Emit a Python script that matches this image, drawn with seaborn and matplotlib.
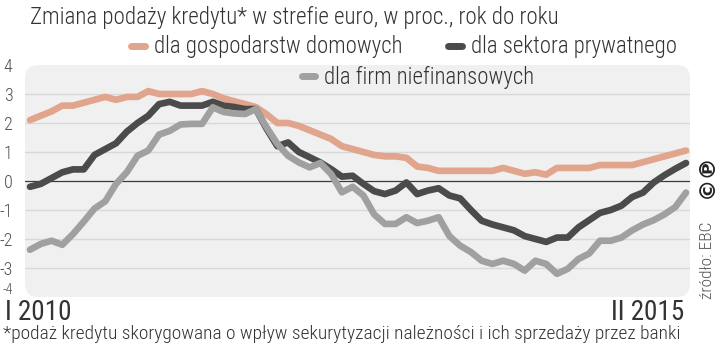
import numpy as np
import pandas as pd
import seaborn as sns
import matplotlib.pyplot as plt
from matplotlib.patches import FancyBboxPatch
from matplotlib.lines import Line2D

# Monthly y/y change of credit supply in the euro area, I 2010 - II 2015
month_idx = list(range(62))
x_labels = ["I 2010", "II 2015"]
y_ticks = [-4, -3, -2, -1, 0, 1, 2, 3, 4]

households = [2.10, 2.25, 2.40, 2.60, 2.60, 2.70, 2.80, 2.90, 2.80, 2.90,
              2.90, 3.10, 3.00, 3.00, 3.00, 3.00, 3.10, 3.00, 2.85, 2.75,
              2.65, 2.55, 2.30, 2.00, 2.00, 1.90, 1.75, 1.60, 1.45, 1.20,
              1.10, 1.00, 0.90, 0.85, 0.85, 0.80, 0.50, 0.45, 0.35, 0.35,
              0.35, 0.35, 0.35, 0.35, 0.45, 0.35, 0.25, 0.30, 0.22, 0.45,
              0.45, 0.45, 0.45, 0.55, 0.55, 0.55, 0.55, 0.65, 0.75, 0.85,
              0.95, 1.05]

private = [-0.20, -0.10, 0.10, 0.30, 0.40, 0.40, 0.90, 1.10, 1.30, 1.70,
           2.00, 2.25, 2.65, 2.73, 2.60, 2.60, 2.60, 2.73, 2.60, 2.55,
           2.48, 2.48, 1.80, 1.20, 1.33, 1.00, 0.82, 0.64, 0.41, 0.15,
           0.18, -0.10, -0.35, -0.45, -0.33, -0.05, -0.45, -0.33, -0.25, -0.50,
           -0.60, -1.00, -1.37, -1.50, -1.60, -1.70, -1.90, -2.00, -2.10, -1.95,
           -1.95, -1.60, -1.35, -1.10, -1.00, -0.85, -0.55, -0.40, -0.05, 0.20,
           0.42, 0.62]

firms = [-2.37, -2.17, -2.06, -2.20, -1.83, -1.40, -0.95, -0.70, -0.10, 0.30,
         0.87, 1.05, 1.60, 1.73, 1.95, 1.97, 1.97, 2.54, 2.38, 2.33,
         2.31, 2.48, 1.85, 1.28, 0.87, 0.64, 0.47, 0.62, 0.24, -0.39,
         -0.20, -0.50, -1.15, -1.48, -1.48, -1.25, -1.45, -1.37, -1.25, -1.90,
         -2.23, -2.45, -2.75, -2.86, -2.75, -2.86, -3.09, -2.75, -2.86, -3.20,
         -3.03, -2.69, -2.50, -2.06, -2.06, -1.95, -1.70, -1.50, -1.35, -1.15,
         -0.90, -0.40]

series_names = ["dla gospodarstw domowych", "dla sektora prywatnego",
                "dla firm niefinansowych"]
colors = ["#e1a48c", "#4b4b4b", "#a0a0a0"]

df = pd.DataFrame({
    "miesiac": month_idx * 3,
    "zmiana": households + private + firms,
    "seria": [series_names[0]] * 62 + [series_names[1]] * 62 + [series_names[2]] * 62,
})

sns.set_theme(style="white")
FONT = ["Roboto Condensed", "IBM Plex Sans Condensed", "DejaVu Sans"]
plt.rcParams["font.family"] = FONT
TXT = "#333333"

fig = plt.figure(figsize=(7.2, 3.44), dpi=100)
ax = fig.add_axes([25 / 720, 47 / 344, 665 / 720, 232 / 344])
px = 656 / 61.0
ax.set_xlim(-5 / px, 61 + 4 / px)
ax.set_ylim(-4, 4)
ax.patch.set_visible(False)
for s in ax.spines.values():
    s.set_visible(False)

# rounded light panel behind the lines
bg = FancyBboxPatch((0, 0), 1, 1, boxstyle="round,pad=0,rounding_size=0.02",
                    mutation_aspect=665 / 232, transform=ax.transAxes,
                    facecolor="#f0f0f0", edgecolor="none", zorder=0, clip_on=False)
ax.add_patch(bg)
for v in [-3, -2, -1, 1, 2, 3]:
    ax.axhline(v, color="#d8d8d8", lw=1.0, zorder=1)
ax.axhline(0, color="#3a3a3a", lw=0.9, zorder=1)

sns.lineplot(data=df, x="miesiac", y="zmiana", hue="seria", hue_order=series_names,
             palette=colors, lw=4.8, legend=False, ax=ax, zorder=3,
             solid_capstyle="round", solid_joinstyle="round")

ax.set_xlabel("")
ax.set_ylabel("")
ax.set_xticks([])
ax.set_yticks(y_ticks)
ax.set_yticklabels([str(t) for t in y_ticks], color="#505050", fontsize=13,
                   fontweight="light")
ax.get_yticklabels()[0].set_fontsize(10)
ax.get_yticklabels()[0].set_verticalalignment("bottom")
ax.tick_params(axis="y", length=0, pad=9)
for lab in ax.get_yticklabels():
    lab.set_horizontalalignment("right")

# category labels at both ends of the time axis
fig.text(5 / 720, 1 - 313 / 344, x_labels[0], fontsize=19.5, color=TXT,
         ha="left", va="center")
fig.text(684 / 720, 1 - 313 / 344, x_labels[1], fontsize=19.5, color=TXT,
         ha="right", va="center")

fig.text(30 / 720, 1 - 17 / 344,
         "Zmiana podaży kredytu* w strefie euro, w proc., rok do roku",
         fontsize=16.6, fontweight="light", color=TXT, ha="left", va="center")
fig.text(3 / 720, 1 - 334 / 344,
         "*podaż kredytu skorygowana o wpływ sekurytyzacji należności i ich sprzedaży przez banki",
         fontsize=14, fontweight="light", color=TXT, ha="left", va="center")

# source and licence mark on the right edge
fig.text(707 / 720, 1 - 260 / 344, "źródło: EBC", rotation=90, fontsize=12.5,
         fontweight="light", color="#555555", ha="center", va="center")
fig.text(707 / 720, 1 - 176 / 344, "©℗", rotation=90, fontsize=16, weight="bold",
         color="#222222", ha="center", va="center", family="DejaVu Sans")

handles = [Line2D([0], [0], color=c, lw=5, solid_capstyle="round") for c in colors]
leg_kw = dict(loc="center", frameon=False, handlelength=0.6, handletextpad=0.4,
              prop={"size": 16.4, "weight": "light"}, labelcolor=TXT)
fig.legend(handles[:2], series_names[:2], bbox_to_anchor=(404 / 720, 1 - 47 / 344),
           ncol=2, columnspacing=2.0, **leg_kw)
fig.legend(handles[2:], series_names[2:], bbox_to_anchor=(418 / 720, 1 - 77 / 344),
           ncol=1, **leg_kw)

fig.savefig("out.png", dpi=100)
